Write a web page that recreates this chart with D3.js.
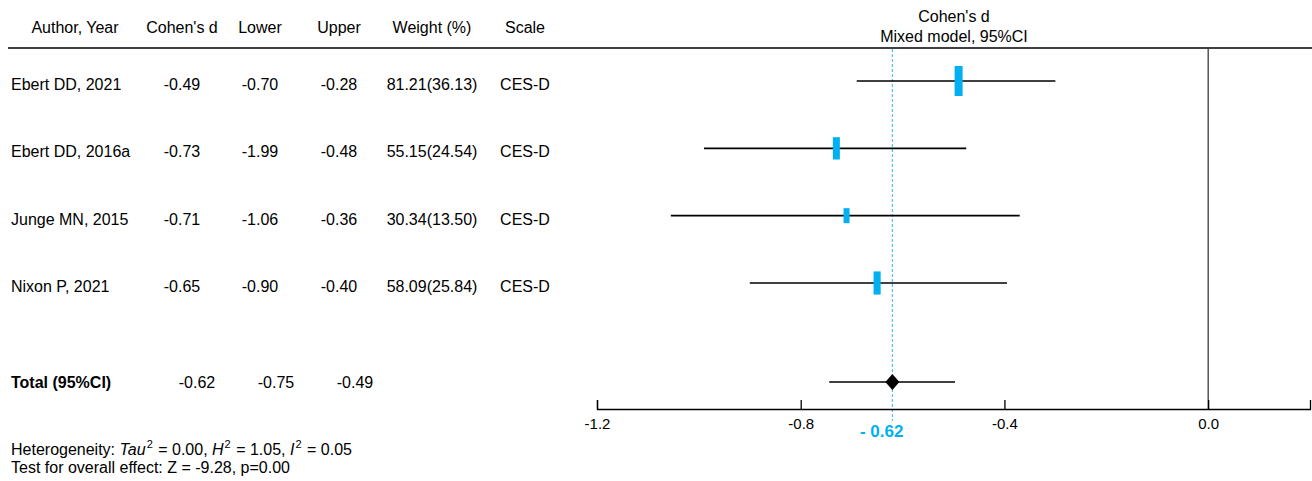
<!DOCTYPE html>
<html>
<head>
<meta charset="utf-8">
<script src="https://cdn.jsdelivr.net/npm/d3@7"></script>
<style>
  html, body { margin: 0; padding: 0; background: #fff; }
  svg { display: block; }
  text { font-family: "Liberation Sans", Arial, sans-serif; fill: #000; }
</style>
</head>
<body>
<svg id="chart" width="1312" height="481"></svg>
<script>
// ---------- data ----------
const headers = ["Author, Year", "Cohen's d", "Lower", "Upper", "Weight (%)", "Scale"];
const studies = ["Ebert DD, 2021", "Ebert DD, 2016a", "Junge MN, 2015", "Nixon P, 2021"];
const cohensD = [-0.49, -0.73, -0.71, -0.65];
const lowerText = ["-0.70", "-1.99", "-1.06", "-0.90"];
const upperText = ["-0.28", "-0.48", "-0.36", "-0.40"];
const weightText = ["81.21(36.13)", "55.15(24.54)", "30.34(13.50)", "58.09(25.84)"];
const weightPct = [36.13, 24.54, 13.50, 25.84];
const scaleNames = ["CES-D", "CES-D", "CES-D", "CES-D"];
// CI ends as drawn in the plot
const plotLower = [-0.69, -0.99, -1.055, -0.90];
const plotUpper = [-0.30, -0.475, -0.37, -0.395];
const totalLabel = "Total (95%CI)";
const totalD = -0.62;
const totalLower = -0.75;
const totalUpper = -0.49;
const plotTotalLower = -0.744;
const plotTotalUpper = -0.497;
const xTicks = [-1.2, -0.8, -0.4, 0.0];
const xDomain = [-1.2, 0.2];
const plotTitle = ["Cohen's d", "Mixed model, 95%CI"];
const footer1 = "Heterogeneity: ";
const footer2 = "Test for overall effect: Z = -9.28, p=0.00";

// ---------- layout ----------
const svg = d3.select("#chart");
const fs = 16;
const fmt = v => v.toFixed(2);
const headerY = 27, lineY = 48, axisY = 409, totalY = 382;
const colX = [75, 182, 260, 339, 432, 525];   // header centers
const totX = [197, 276, 355];
const x = d3.scaleLinear().domain(xDomain).range([597, 1310]);
const y = d3.scalePoint().domain(studies).range([81, 283]);
const hScale = d3.scaleLinear().domain([13.5, 36.13]).range([15, 30]);
const wScale = d3.scaleLinear().domain([13.5, 36.13]).range([6, 8]);
const blue = "#00B0F0";

// header texts
svg.selectAll("text.hdr").data(headers).join("text")
  .attr("class", "hdr")
  .attr("x", (d, i) => colX[i]).attr("y", headerY + 6)
  .attr("text-anchor", "middle").attr("font-size", fs).text(d => d);

svg.selectAll("text.ptitle").data(plotTitle).join("text")
  .attr("class", "ptitle")
  .attr("x", 954).attr("y", (d, i) => 22 + i * 20)
  .attr("text-anchor", "middle").attr("font-size", fs).text(d => d);

// header line
svg.append("line").attr("x1", 8).attr("x2", 1312).attr("y1", lineY).attr("y2", lineY)
  .attr("stroke", "#404040").attr("stroke-width", 2);

// table rows
const rows = studies.map((s, i) => ({
  s, cells: [s, fmt(cohensD[i]), lowerText[i], upperText[i], weightText[i], scaleNames[i]], i
}));
const rowG = svg.selectAll("g.row").data(rows).join("g").attr("class", "row")
  .attr("transform", d => `translate(0,${y(d.s) + 3 + 6})`);
rowG.selectAll("text").data(d => d.cells).join("text")
  .attr("x", (d, j) => j === 0 ? 11 : colX[j])
  .attr("text-anchor", (d, j) => j === 0 ? "start" : "middle")
  .attr("font-size", fs).text(d => d);

// total row
svg.append("text").attr("x", 11).attr("y", totalY + 6).attr("font-size", fs)
  .attr("font-weight", "bold").text(totalLabel);
svg.selectAll("text.tot").data([totalD, totalLower, totalUpper]).join("text")
  .attr("class", "tot")
  .attr("x", (d, i) => totX[i]).attr("y", totalY + 6)
  .attr("text-anchor", "middle").attr("font-size", fs).text(d => fmt(d));

// footer
const f1 = svg.append("text").attr("x", 11).attr("y", 455).attr("font-size", fs);
f1.append("tspan").text(footer1);
f1.append("tspan").attr("font-style", "italic").text("Tau");
f1.append("tspan").attr("dy", -7).attr("dx", 1).attr("font-size", 11).text("2");
f1.append("tspan").attr("dy", 7).attr("dx", 1).text(" = 0.00, ");
f1.append("tspan").attr("font-style", "italic").text("H");
f1.append("tspan").attr("dy", -7).attr("dx", 1).attr("font-size", 11).text("2");
f1.append("tspan").attr("dy", 7).attr("dx", 1).text(" = 1.05, ");
f1.append("tspan").attr("font-style", "italic").text("I");
f1.append("tspan").attr("dy", -7).attr("dx", 1).attr("font-size", 11).text("2");
f1.append("tspan").attr("dy", 7).attr("dx", 1).text(" = 0.05");
svg.append("text").attr("x", 11).attr("y", 473).attr("font-size", fs).text(footer2);

// zero line
svg.append("line").attr("x1", x(0)).attr("x2", x(0)).attr("y1", lineY + 1).attr("y2", axisY)
  .attr("stroke", "#000").attr("stroke-width", 1);

// pooled dashed line
svg.append("line").attr("x1", x(totalD)).attr("x2", x(totalD)).attr("y1", lineY + 1).attr("y2", 421)
  .attr("stroke", "#4FC3F7").attr("stroke-width", 1.2).attr("stroke-dasharray", "3,2");

// CI lines
svg.selectAll("line.ci").data(studies).join("line").attr("class", "ci")
  .attr("x1", (d, i) => x(plotLower[i])).attr("x2", (d, i) => x(plotUpper[i]))
  .attr("y1", d => y(d)).attr("y2", d => y(d))
  .attr("stroke", "#000").attr("stroke-width", 1.6);

// markers
svg.selectAll("rect.mk").data(studies).join("rect").attr("class", "mk")
  .attr("x", (d, i) => x(cohensD[i]) - wScale(weightPct[i]) / 2)
  .attr("width", (d, i) => wScale(weightPct[i]))
  .attr("y", (d, i) => y(d) - hScale(weightPct[i]) / 2)
  .attr("height", (d, i) => hScale(weightPct[i]))
  .attr("fill", blue);

// total CI + diamond
svg.append("line").attr("x1", x(plotTotalLower)).attr("x2", x(plotTotalUpper))
  .attr("y1", totalY).attr("y2", totalY).attr("stroke", "#000").attr("stroke-width", 1.6);
const cx = x(totalD);
svg.append("path")
  .attr("d", `M${cx - 7},${totalY} L${cx},${totalY - 8} L${cx + 7},${totalY} L${cx},${totalY + 8} Z`)
  .attr("fill", "#000");

// axis
const axis = d3.axisBottom(x).tickValues(xTicks).tickSizeInner(-9).tickSizeOuter(-9)
  .tickPadding(9).tickFormat(d => d.toFixed(1));
const ag = svg.append("g").attr("transform", `translate(0,${axisY})`).call(axis);
ag.selectAll("path, line").attr("stroke", "#000").attr("stroke-width", 1.3);
ag.selectAll("text").attr("font-size", 15).attr("font-family", "Liberation Sans, Arial, sans-serif").attr("fill", "#000");

// pooled label
svg.append("text").attr("x", cx + 11).attr("y", 437).attr("text-anchor", "end")
  .attr("font-size", 17).attr("font-weight", "bold").style("fill", blue).text("- 0.62");
</script>
</body>
</html>
